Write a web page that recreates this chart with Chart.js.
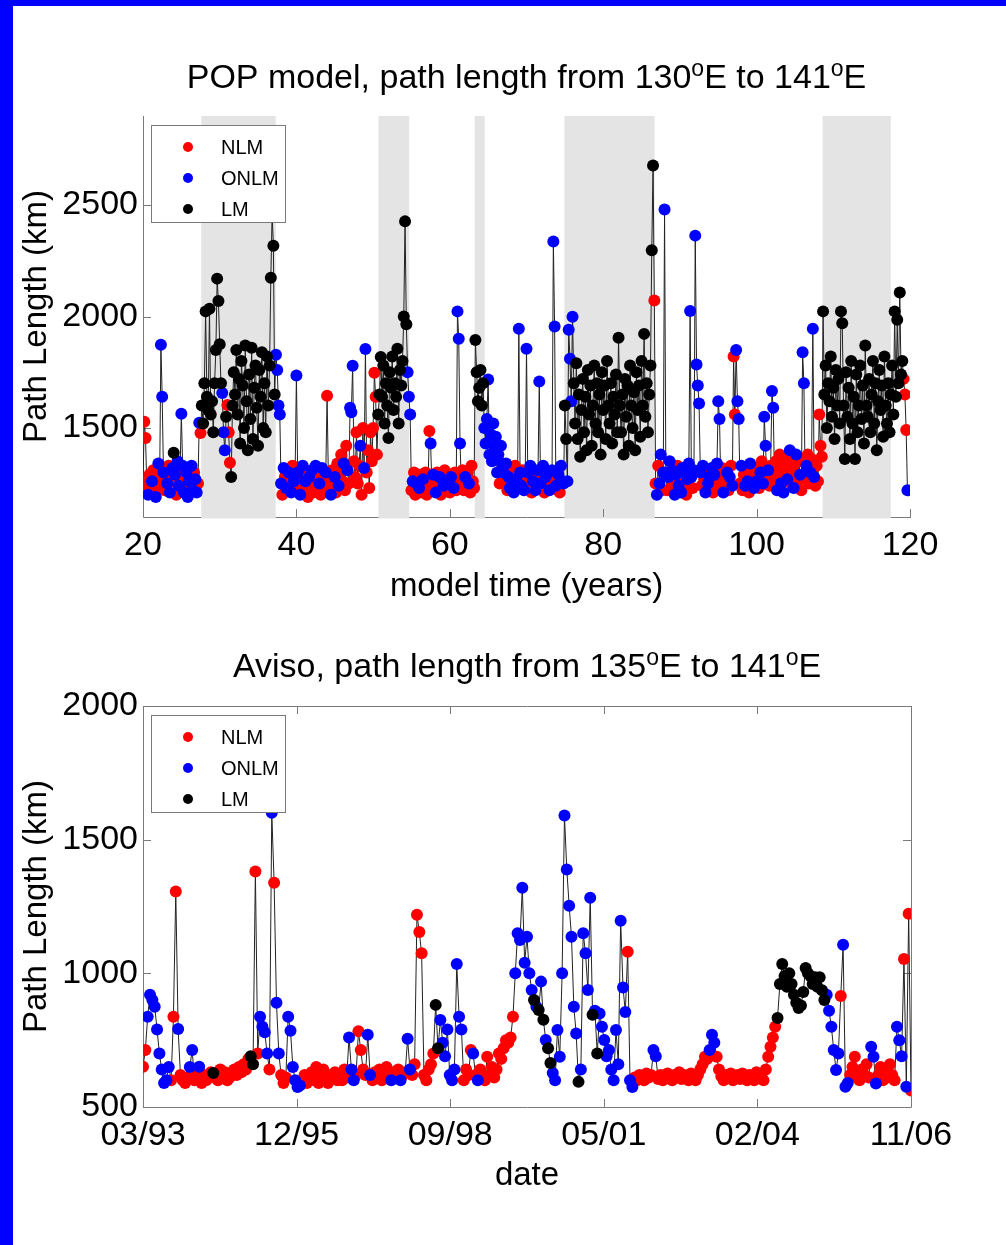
<!DOCTYPE html>
<html>
<head>
<meta charset="utf-8">
<script src="https://cdn.jsdelivr.net/npm/chart.js@4.4.1/dist/chart.umd.min.js"></script>
<style>
  html, body { margin: 0; padding: 0; background: #fff; }
  #page { position: relative; width: 1006px; height: 1245px; overflow: hidden; background: #fff; }
  canvas { position: absolute; left: 0; }
  #popChart { top: 0; }
  #avisoChart { top: 620px; }
  .edge { position: absolute; background: #0000ff; }
</style>
</head>
<body>
<div id="page">
  <canvas id="popChart" width="1006" height="620"></canvas>
  <canvas id="avisoChart" width="1006" height="625"></canvas>
  <div class="edge" style="left:0;top:0;width:1006px;height:6px"></div>
  <div class="edge" style="left:0;top:0;width:13px;height:1245px"></div>
</div>
<script>
// regimes: N = NLM, O = ONLM, L = LM. A letter sets the regime for the following values.
const regimeCodes = ['N', 'O', 'L'];
const regimeNames = ['NLM', 'ONLM', 'LM'];
const regimeColors = ['#ff0000', '#0000ff', '#000000'];

// POP model, one line per model year (6 samples a year), path length in km
const popRuns = [
  "N1250 1528 1455 1230 O1200 N1290",   // 20
  "N1220 O1260 N1310 1200 O1190 N1270",
  "O1340 N1240 O1873 1640 1300 N1220",
  "N1280 O1250 N1330 O1210 N1260 O1320",
  "L1388 O1290 N1200 O1350 1240 N1310",
  "O1563 1330 1210 N1280 O1300 1190",
  "O1260 N1240 O1330 1220 N1300 O1270",
  "O1210 N1250 O1523 N1477 L1600 1520",
  "L1700 2023 1640 1580 2035 1560",
  "L1620 1480 1700 1850 2170 2070",
  "L1875 1700 O1657 1480 1400 L1550",   // 30
  "N1603 1480 1343 L1280 1600 1750",
  "L1650 1850 1560 1720 1430 1800",
  "L1690 1500 1870 1620 1400 1740",
  "L1540 1860 1450 1680 1780 1590",
  "L1420 1760 1640 1840 1500 1700",
  "L1480 1820 1600 1780 2174 2460",
  "L2318 1650 O1828 1760 1600 1560",
  "O1250 N1200 O1320 N1280 O1230 N1220",
  "O1300 N1250 O1210 N1330 O1260 1290",
  "O1735 1300 N1240 O1200 N1270 O1330", // 40
  "N1220 O1260 N1300 1190 O1280 N1240",
  "O1310 N1210 1270 O1330 N1230 1290",
  "O1250 N1200 O1320 N1260 1220 O1300",
  "N1644 1280 1230 O1200 N1310 1250",
  "O1280 N1210 1340 O1240 N1300 1380",
  "N1260 O1340 N1220 1420 O1310 N1250",
  "O1590 1570 1779 N1350 1280 1480",
  "N1250 1330 O1420 N1200 1500 O1320",
  "O1854 N1300 1400 1230 1480 1350",
  "N1500 1747 1640 1380 L1560 1650",     // 50
  "L1818 1640 1780 1520 1700 1600",
  "L1455 1750 1680 1820 1580 1700",
  "L1640 1855 1520 1760 1690 1800",
  "L2000 2427 1965 O1750 1640 1560",
  "N1220 O1260 N1300 1200 O1250 N1280",
  "O1230 N1290 1210 O1270 N1240 1300",
  "N1200 1260 1486 O1430 N1230 O1290",
  "N1250 O1210 N1300 1230 O1280 N1200",
  "N1270 O1240 N1310 1220 O1260 N1290",
  "N1210 O1280 N1250 O1230 N1300 1220", // 60
  "O2023 1900 1430 N1260 1310 1220",
  "O1280 N1240 1300 O1250 N1210 1330",
  "N1260 1230 L1895 1750 1620 1680",
  "L1760 1600 1700 O1500 1430 1540",
  "O1717 1380 1470 1350 1520 1420",
  "O1460 1300 1380 N1250 O1420 1340",
  "O1300 N1250 O1340 N1220 O1280 1230",
  "N1300 O1250 1210 N1330 O1270 N1240",
  "O1945 1300 1240 N1310 O1220 N1280",
  "O1855 1300 N1230 O1330 N1210 O1260", // 70
  "N1300 O1220 N1260 O1310 1708 1250",
  "N1240 O1330 N1210 O1280 N1250 O1300",
  "O1220 N1270 O1310 2337 1955 1240",
  "N1230 O1290 N1210 O1330 1260 1250",
  "L1600 1450 O1260 1940 1810 1620",
  "O1999 L1700 1520 1790 1450 1650",
  "L1370 1580 1720 1480 1640 1400",
  "L1760 1560 1690 1420 1600 1780",
  "L1520 1700 1480 1650 1380 1750",
  "L1580 1690 1450 1800 1600 1520",     // 80
  "L1700 1430 1640 1560 1740 1480",
  "L1905 1600 1480 1650 1380 1720",
  "L1550 1690 1420 1780 1600 1500",
  "L1660 1400 1750 1580 1690 1460",
  "L1800 1600 1922 1550 1700 1480",
  "L1650 1780 2297 2678 N2072 1250",
  "O1200 N1330 O1250 1380 N1220 O1300",
  "O2480 1300 N1220 O1280 1350 N1230",
  "O1310 N1260 O1200 1290 N1330 O1240",
  "N1280 O1210 1320 N1250 O1300 N1200", // 90
  "O1270 1340 2025 1280 N1230 O1310",
  "O2363 1785 1690 1610 1300 N1240",
  "O1330 N1270 O1210 N1300 O1250 1280",
  "N1240 O1320 N1210 O1290 N1260 O1340",
  "O1620 1540 N1240 1320 O1210 N1290",
  "N1250 O1300 N1220 O1280 N1330 O1240",
  "N1820 1560 O1850 1620 1540 N1250",
  "O1330 N1220 1290 O1240 N1300 O1260",
  "N1210 O1340 N1250 1300 O1230 N1290",
  "O1260 N1320 1230 O1300 N1350 O1250", // 100
  "O1550 1420 N1270 O1310 N1240 1330",
  "O1666 1590 N1280 1350 O1220 N1300",
  "N1380 O1250 N1330 O1210 N1290 1360",
  "O1270 N1320 O1400 N1250 1340 O1230",
  "N1300 O1380 N1260 1350 O1290 N1220",
  "O1840 1700 N1270 O1330 N1380 1250",
  "O1300 N1360 O1945 1280 N1240 1330",
  "N1260 1560 1420 1370 L2023 1650",
  "L1780 1500 1700 1620 1820 1550",
  "L1680 1450 1760 1600 1720 1520",     // 110
  "L2023 1970 1600 1360 1750 1550",
  "L1680 1450 1800 1520 1640 1360",
  "L1740 1480 1600 1780 1540 1690",
  "L1430 1870 1600 1550 1720 1480",
  "L1650 1800 1520 1700 1400 1620",
  "L1760 1580 1690 1460 1820 1600",
  "L1520 1700 1480 1650 1780 1560",
  "L2023 1640 1985 1700 2108 1740",
  "L1800 N1720 1650 1490 O1220"
];
const popStartYear = 20;
const popBands = [[27.6, 37.3], [50.7, 54.7], [63.25, 64.55], [74.95, 86.7], [108.6, 117.5]];
const popXTicks = [20, 40, 60, 80, 100, 120];
const popYTicks = [1500, 2000, 2500];

// Aviso, one line per half year from 03/93 (2 samples a month), path length in km
const avisoRuns = [
  "N651 713 O838 920 900 875 790 700 640 590 600 650",
  "N600 838 1306 O792 N620 600 590 610 O650 713 N600 620",
  "O651 N590 620 600 610 630 L627 N610 600 640 620 630",
  "N600 610 630 640 620 650 630 660 640 680 L690 660",
  "N1381 700 O838 800 780 700 N640 O1601 N1339 O890 700 N620",
  "N590 610 O838 785 650 600 575 580 N600 620 590 610",
  "N630 600 650 590 620 640 600 590 620 610 630 600",
  "N620 600 640 610 O760 640 600 N620 783 713 640 620",
  "O770 620 N600 630 610 640 600 620 650 610 O600 N630",
  "N610 640 O600 N620 630 O755 640 N620 660 1219 1155 1075",
  "N620 600 640 660 700 L882 720 O825 740 690 790 620",
  "O600 640 1035 838 790 N600 640 620 713 O700 N620 O600",
  "N640 620 600 688 620 650 610 640 700 680 720 750",
  "N740 760 838 O1000 1150 1125 1320 1040 1137 1000 938 L900",
  "O875 L863 O969 L826 O751 L720 665 O627 600 788 688 1000",
  "O1590 1388 1253 1137 875 775 L594 O640 1150 1075 938 1283",
  "L845 O860 L700 O850 800 751 690 713 640 600 788 660",
  "O1197 947 855 N1081 O600 575 N610 600 620 610 600 625",
  "N610 620 O713 690 N605 620 600 615 625 610 600 620",
  "N615 630 605 620 610 600 625 615 600 620 640 660",
  "N688 680 O713 770 740 N688 640 615 600 620 610 625",
  "N600 615 620 605 625 610 600 620 615 600 630 610",
  "N620 600 640 688 725 760 800 L833 960 1035 990 950",
  "L1000 960 920 890 870 880 930 1020 1000 990 960 985",
  "L950 985 937 900 O920 860 800 713 638 700 N915 O1107",
  "O576 590 N620 650 688 610 600 640 620 660 610 O725",
  "O688 588 N620 650 600 640 610 660 620 600 O800 750",
  "O690 N1054 O576 N1223 562"
];
const avisoTickMonths = [0, 32.8, 65.6, 98.4, 131.2, 164];
const avisoTickLabels = ['03/93', '12/95', '09/98', '05/01', '02/04', '11/06'];
const avisoYTicks = [500, 1000, 1500, 2000];

const FONT = '"Liberation Sans", Arial, Helvetica, sans-serif';
const axisGray = '#7a7a7a';
const bandGray = '#e4e4e4';
const tickLen = 8;

function parseRuns(runs, start, blockSpan, step) {
  const pts = [];
  let reg = 'N';
  runs.forEach((line, k) => {
    line.trim().split(/\s+/).forEach((tok, j) => {
      if (/^[NOL]/.test(tok)) { reg = tok[0]; tok = tok.slice(1); }
      pts.push({ x: start + k * blockSpan + j * step, y: +tok, r: reg });
    });
  });
  return pts;
}

function drawRich(ctx, parts, cx, baseline, size) {
  const big = `${size}px ${FONT}`;
  const small = `${Math.round(size * 0.68)}px ${FONT}`;
  let w = 0;
  parts.forEach(p => { ctx.font = p.sup ? small : big; w += ctx.measureText(p.t).width; });
  let xx = cx - w / 2;
  ctx.textAlign = 'left';
  ctx.textBaseline = 'alphabetic';
  parts.forEach(p => {
    ctx.font = p.sup ? small : big;
    ctx.fillText(p.t, xx, p.sup ? baseline - size * 0.36 : baseline);
    xx += ctx.measureText(p.t).width;
  });
}

const matlabFrame = {
  id: 'matlabFrame',
  beforeDatasetsDraw(chart, args, o) {
    const { ctx, chartArea: a, scales: { x, y } } = chart;
    ctx.save();
    ctx.strokeStyle = axisGray;
    ctx.lineWidth = 1;
    ctx.beginPath();
    if (o.box) {
      ctx.rect(a.left + 0.5, a.top + 0.5, a.right - a.left, a.bottom - a.top);
    } else {
      ctx.moveTo(a.left + 0.5, a.top);
      ctx.lineTo(a.left + 0.5, a.bottom + 0.5);
      ctx.lineTo(a.right + 1, a.bottom + 0.5);
    }
    ctx.stroke();

    ctx.fillStyle = bandGray;
    o.bands.forEach(([s, e]) => {
      const x0 = x.getPixelForValue(s), x1 = x.getPixelForValue(e);
      ctx.fillRect(x0, a.top, x1 - x0, a.bottom - a.top + 1.5);
    });

    ctx.beginPath();
    x.ticks.forEach(t => {
      const px = Math.round(x.getPixelForValue(t.value)) + 0.5;
      ctx.moveTo(px, a.bottom); ctx.lineTo(px, a.bottom - tickLen);
      if (o.box) { ctx.moveTo(px, a.top); ctx.lineTo(px, a.top + tickLen); }
    });
    y.ticks.forEach(t => {
      const py = Math.round(y.getPixelForValue(t.value)) + 0.5;
      ctx.moveTo(a.left, py); ctx.lineTo(a.left + tickLen, py);
      if (o.box) { ctx.moveTo(a.right, py); ctx.lineTo(a.right - tickLen, py); }
    });
    ctx.stroke();
    ctx.restore();
  },
  afterDraw(chart, args, o) {
    const { ctx, chartArea: a } = chart;
    ctx.save();
    ctx.fillStyle = '#000';
    const cx = (a.left + a.right) / 2;
    drawRich(ctx, o.title, cx, o.titleBaseline, 34);

    ctx.font = `33px ${FONT}`;
    ctx.textAlign = 'center';
    ctx.textBaseline = 'middle';
    ctx.fillText(o.xTitle, cx, o.xTitleY);

    ctx.save();
    ctx.translate(o.yTitleX, (a.top + a.bottom) / 2);
    ctx.rotate(-Math.PI / 2);
    ctx.fillText(o.yTitle, 0, 0);
    ctx.restore();

    // legend box in the upper left corner
    const L = o.legend;
    ctx.fillStyle = '#fff';
    ctx.fillRect(L.left, L.top, 134, 97);
    ctx.strokeStyle = axisGray;
    ctx.lineWidth = 1;
    ctx.strokeRect(L.left + 0.5, L.top + 0.5, 134, 97);
    ctx.font = `20px ${FONT}`;
    ctx.textAlign = 'left';
    chart.data.datasets.filter(d => d.regime).forEach((d, i) => {
      const ly = L.top + 22 + i * 31;
      ctx.fillStyle = d.backgroundColor;
      ctx.beginPath();
      ctx.arc(L.left + 37, ly, 5, 0, Math.PI * 2);
      ctx.fill();
      ctx.fillStyle = '#000';
      ctx.fillText(d.label, L.left + 70, ly + 1);
    });
    ctx.restore();
  }
};

function makeChart(id, pts, cfg) {
  const datasets = [{
    type: 'line',
    label: 'path',
    data: pts.map(p => ({ x: p.x, y: p.y })),
    borderColor: '#222',
    borderWidth: 1,
    pointRadius: 0,
    tension: 0,
    order: 10
  }];
  regimeCodes.forEach((code, i) => {
    datasets.push({
      type: 'scatter',
      label: regimeNames[i],
      regime: code,
      data: pts.filter(p => p.r === code).map(p => ({ x: p.x, y: p.y })),
      backgroundColor: regimeColors[i],
      borderWidth: 0,
      pointRadius: 6,
      pointHoverRadius: 6,
      order: 3 - i
    });
  });
  const tickFont = { family: FONT, size: 34 };
  return new Chart(document.getElementById(id), {
    type: 'scatter',
    data: { datasets },
    options: {
      responsive: false,
      animation: false,
      events: [],
      layout: { padding: cfg.padding },
      plugins: { legend: { display: false }, tooltip: { enabled: false }, matlabFrame: cfg.frame },
      scales: {
        x: {
          type: 'linear', min: cfg.xMin, max: cfg.xMax,
          grid: { display: false, drawTicks: false }, border: { display: false },
          ticks: { font: tickFont, color: '#000', padding: 8, autoSkip: false, maxRotation: 0,
                   callback: cfg.xLabel },
          afterBuildTicks: s => { s.ticks = cfg.xTicks.map(v => ({ value: v })); },
          afterFit: s => { s.height = cfg.xHeight; }
        },
        y: {
          type: 'linear', min: cfg.yMin, max: cfg.yMax,
          grid: { display: false, drawTicks: false }, border: { display: false },
          ticks: { font: tickFont, color: '#000', padding: 5, callback: v => String(v) },
          afterBuildTicks: s => { s.ticks = cfg.yTicks.map(v => ({ value: v })); },
          afterFit: s => { s.width = 143; }
        }
      }
    },
    plugins: [matlabFrame]
  });
}

const popPts = parseRuns(popRuns, popStartYear, 1, 1 / 6);
const avisoPts = parseRuns(avisoRuns, 0, 6, 0.5);

makeChart('popChart', popPts, {
  padding: { left: 0, right: 96, top: 116, bottom: 0 },
  xMin: 20, xMax: 120, xTicks: popXTicks, xLabel: v => String(v), xHeight: 103,
  yMin: 1100, yMax: 2900, yTicks: popYTicks,
  frame: {
    box: false, bands: popBands,
    title: [{ t: 'POP model, path length from 130' }, { t: 'o', sup: true }, { t: 'E to 141' }, { t: 'o', sup: true }, { t: 'E' }],
    titleBaseline: 88, xTitle: 'model time (years)', xTitleY: 587,
    yTitle: 'Path Length (km)', yTitleX: 37, legend: { left: 151, top: 125 }
  }
});

makeChart('avisoChart', avisoPts, {
  padding: { left: 0, right: 95, top: 86, bottom: 0 },
  xMin: 0, xMax: 164, xTicks: avisoTickMonths, xLabel: (v, i) => avisoTickLabels[i], xHeight: 138,
  yMin: 500, yMax: 2000, yTicks: avisoYTicks,
  frame: {
    box: true, bands: [],
    title: [{ t: 'Aviso, path length from 135' }, { t: 'o', sup: true }, { t: 'E to 141' }, { t: 'o', sup: true }, { t: 'E' }],
    titleBaseline: 57, xTitle: 'date', xTitleY: 556,
    yTitle: 'Path Length (km)', yTitleX: 37, legend: { left: 151, top: 95 }
  }
});
</script>
</body>
</html>
